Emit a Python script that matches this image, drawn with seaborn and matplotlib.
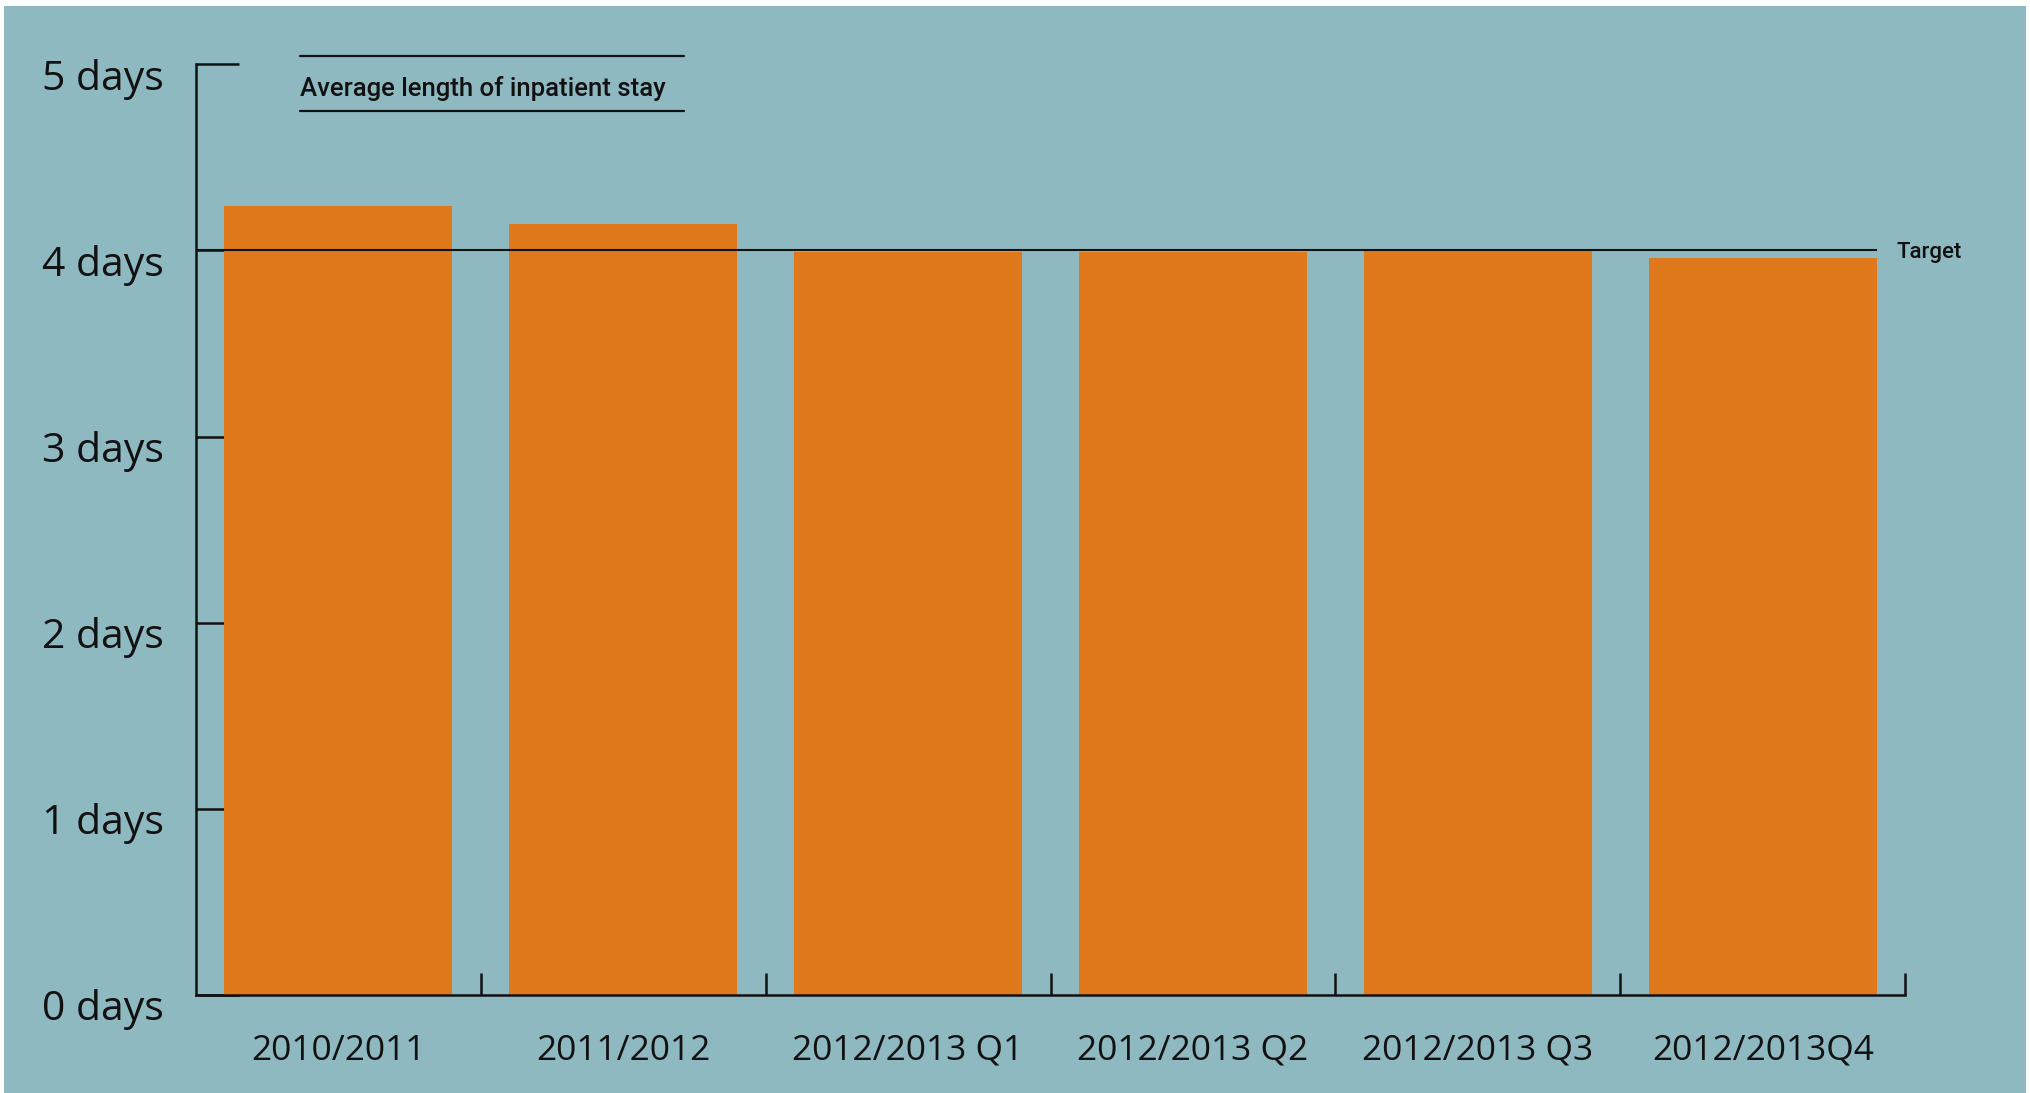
import matplotlib
matplotlib.use("Agg")
import matplotlib.pyplot as plt
import matplotlib.transforms as mtransforms
from matplotlib.patches import Rectangle
import seaborn as sns
import numpy as np

# Average inpatient length of stay, in days
periods = ["2010/2011", "2011/2012", "2012/2013 Q1", "2012/2013 Q2",
           "2012/2013 Q3", "2012/2013Q4"]
stay_days = [4.24, 4.14, 3.99, 3.99, 4.01, 3.96]
target_days = 4.0
y_ticks = [0, 1, 2, 3, 4, 5]
y_tick_labels = ["0 days", "1 days", "2 days", "3 days", "4 days", "5 days"]
title_text = "Average length of inpatient stay"
target_text = "Target"

panel_color = "#8fb9c1"
bar_color = "#e0791c"
ink = "#111111"

sns.set_style("ticks")
plt.rcParams["font.family"] = ["Open Sans", "DejaVu Sans"]
narrow = ["Liberation Sans Narrow", "Roboto", "DejaVu Sans"]

W, H = 2031, 1093
fig = plt.figure(figsize=(W / 100, H / 100), dpi=100, facecolor="white")

# teal panel behind the chart
fig.add_artist(Rectangle((4 / W, 0), (2026 - 4) / W, (H - 6) / H,
                         transform=fig.transFigure, facecolor=panel_color,
                         edgecolor="none", zorder=0))

ax = fig.add_axes([195.6 / W, (H - 995) / H, (1905.4 - 195.6) / W, (995 - 64.3) / H])
ax.set_facecolor("none")

sns.barplot(x=periods, y=stay_days, color=bar_color, saturation=1,
            width=0.8, linewidth=0, ax=ax, zorder=1)

ax.set_xlim(-0.5, len(periods) - 0.5)
ax.set_ylim(0, 5)
ax.set_axisbelow(True)

for side in ("top", "right"):
    ax.spines[side].set_visible(False)
for side in ("left", "bottom"):
    ax.spines[side].set_color(ink)
    ax.spines[side].set_linewidth(1.8)

# y axis: long inward ticks, labels nudged slightly below each tick
ax.set_yticks(y_ticks)
ax.set_yticklabels(y_tick_labels)
ax.tick_params(axis="y", direction="in", length=31, width=1.8, color=ink,
               labelsize=29.5, pad=23, labelcolor=ink)
shift = mtransforms.ScaledTranslation(0, -10 / 100, fig.dpi_scale_trans)
for lbl in ax.get_yticklabels():
    lbl.set_transform(lbl.get_transform() + shift)

# x axis: labels under bars, short inward ticks between categories
ax.set_xticks(np.arange(len(periods)))
ax.set_xticklabels(periods)
ax.tick_params(axis="x", which="major", length=0, labelsize=25.5, pad=28,
               labelcolor=ink)
ax.set_xticks(np.arange(len(periods)) + 0.5, minor=True)
ax.tick_params(axis="x", which="minor", direction="in", length=16,
               width=1.8, color=ink)
ax.set_xlabel("")
ax.set_ylabel("")

# target line across the bars
ax.plot([-0.5, len(periods) - 1 + 0.4], [target_days, target_days],
        color=ink, linewidth=1.5, zorder=3, solid_capstyle="butt")
ax.text(len(periods) - 0.53, target_days - 0.012, target_text, fontsize=16,
        fontweight="medium", family=narrow, color=ink, va="center", ha="left",
        clip_on=False)

# boxed title with rules above and below
ax.plot([0.0611, 0.2856], [1.0089, 1.0089], transform=ax.transAxes,
        color=ink, linewidth=1.6, clip_on=False)
ax.plot([0.0611, 0.2856], [0.9498, 0.9498], transform=ax.transAxes,
        color=ink, linewidth=1.6, clip_on=False)
ax.text(0.0611, 0.9735, title_text, transform=ax.transAxes, fontsize=18.5,
        fontweight="medium", family=narrow, color=ink, va="center", ha="left")

fig.savefig("out.png", dpi=100, facecolor="white")
